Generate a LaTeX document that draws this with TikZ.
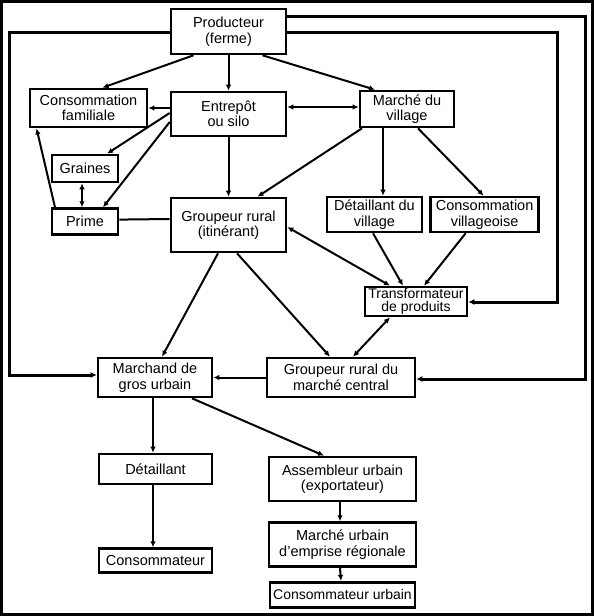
\documentclass[tikz,border=0pt]{standalone}
\usepackage{fontspec}
\setmainfont{Liberation Sans}
\usetikzlibrary{arrows.meta, positioning}
\tikzset{
  box/.style={draw, line width=2.6pt, inner sep=1pt, align=center,
              font=\fontsize{14.5}{15.5}\selectfont},
  arrow/.style={-{Latex[length=6pt,width=5.5pt]}, line width=2pt},
  twoway/.style={{Latex[length=6pt,width=5.5pt]}-{Latex[length=6pt,width=5.5pt]},
                 line width=2pt},
  link/.style={line width=2pt},
  feedback/.style={-{Latex[length=6pt,width=6pt]}, line width=3pt}
}
\begin{document}
\begin{tikzpicture}[x=1pt, y=-1pt]
  \useasboundingbox (0,0) rectangle (594,616);
  \draw[line width=3pt] (1.5,1.5) rectangle (592.5,614.5);

  \node[box, minimum width=115pt, minimum height=45pt] (prod) at (228.5,31.5)
    {Producteur\\(ferme)};
  \node[box, minimum width=117pt, minimum height=38pt] (consfam) at (88.5,108)
    {Consommation\\familiale};
  \node[box, minimum width=115pt, minimum height=44pt] (silo) at (228.5,114)
    {Entrepôt\\ou silo};
  \node[box, minimum width=94pt, minimum height=36pt] (vmarket) at (407,109)
    {Marché du\\village};
  \node[box, minimum width=66pt, minimum height=27pt] (seeds) at (85,168.5)
    {Graines};
  \node[box, minimum width=66pt, minimum height=26pt, below=24pt of seeds] (prime)
    {Prime};
  \node[box, minimum width=115pt, minimum height=54pt] (itin) at (228.5,225)
    {Groupeur rural\\(itinérant)};
  \node[box, minimum width=95pt, minimum height=35pt] (vretail) at (374.5,214.5)
    {Détaillant du\\village};
  \node[box, minimum width=108pt, minimum height=35pt, right=6pt of vretail] (vcons)
    {Consommation\\villageoise};
  \node[box, minimum width=102pt, minimum height=29pt, inner sep=0pt,
        font=\fontsize{14}{12.5}\selectfont] (proc) at (416,301.5)
    {Transformateur\\de produits};
  \node[box, minimum width=114pt, minimum height=39pt] (wholesale) at (155,377.5)
    {Marchand de\\gros urbain};
  \node[box, minimum width=148pt, minimum height=39pt] (central) at (341,377.5)
    {Groupeur rural du\\marché central};
  \node[box, minimum width=113pt, minimum height=30pt] (retail) at (155.5,469)
    {Détaillant};
  \node[box, minimum width=113pt, minimum height=24pt, below=62pt of retail] (consumer)
    {Consommateur};
  \node[box, minimum width=147pt, minimum height=44pt] (export) at (342.5,479)
    {Assembleur urbain\\(exportateur)};
  \node[box, minimum width=147pt, minimum height=44pt, below=19pt of export] (urban)
    {Marché urbain\\d'emprise régionale};
  \node[box, minimum width=145pt, minimum height=25pt, below=13pt of urban,
        font=\fontsize{14}{15}\selectfont] (ucons)
    {Consommateur urbain};

  \draw[feedback] ([yshift=-0.5pt]prod.west) -- ++(-160.5,0) |- ([yshift=2.5pt]wholesale.west);
  \draw[feedback] ([yshift=15pt]prod.east) -- ++(298,0) |- ([yshift=-1.5pt]central.east);
  \draw[feedback] ([yshift=-1pt]prod.east) -- ++(270,0) |- ([yshift=-0.5pt]proc.east);

  \draw[arrow] ([xshift=-35pt]prod.south) -- ([xshift=14pt]consfam.north);
  \draw[arrow] (prod.south) -- (silo.north);
  \draw[arrow] ([xshift=34pt]prod.south) -- ([xshift=-32pt]vmarket.north);
  \draw[twoway] ([yshift=7pt]silo.east) -- ([yshift=2pt]vmarket.west);
  \draw[arrow] ([yshift=6pt]silo.west) -- (consfam.east);
  \draw[arrow] ([yshift=1pt]silo.west) -- ([xshift=22pt]seeds.north);
  \draw[arrow] ([yshift=-8pt]silo.west) -- ([xshift=18pt]prime.north);
  \draw[arrow] ([xshift=-30pt]prime.north) -- ([xshift=-52pt]consfam.south);
  \draw[twoway] ([xshift=-3pt]seeds.south) -- ([xshift=-3pt]prime.north);
  \draw[link] ([yshift=2pt]prime.east) -- ([yshift=6pt]itin.west);
  \draw[arrow] (silo.south) -- (itin.north);
  \draw[arrow] ([xshift=-45pt]vmarket.south) -- ([xshift=29pt]itin.north);
  \draw[arrow] ([xshift=-24pt]vmarket.south) -- ([xshift=8.5pt]vretail.north);
  \draw[arrow] ([xshift=11pt]vmarket.south) -- ([xshift=-1pt]vcons.north);
  \draw[twoway] ([yshift=-2pt]itin.east) -- ([xshift=-26pt]proc.north);
  \draw[arrow] ([xshift=-1.5pt]vretail.south) -- ([xshift=-13pt]proc.north);
  \draw[arrow] ([xshift=-19pt]vcons.south) -- ([xshift=8pt]proc.north);
  \draw[arrow] ([xshift=-10.5pt]itin.south) -- ([xshift=7pt]wholesale.north);
  \draw[arrow] ([xshift=8.5pt]itin.south) -- ([xshift=-11pt]central.north);
  \draw[twoway] ([xshift=-26pt]proc.south) -- ([xshift=12pt]central.north);
  \draw[arrow] (central.west) -- (wholesale.east);
  \draw[arrow] ([xshift=-2pt]wholesale.south) -- ([xshift=-2.5pt]retail.north);
  \draw[arrow] ([xshift=-2.5pt]retail.south) -- ([xshift=-2.5pt]consumer.north);
  \draw[arrow] ([xshift=37pt]wholesale.south) -- ([xshift=-18.5pt]export.north);
  \draw[arrow] ([xshift=-2.5pt]export.south) -- ([xshift=-2.5pt]urban.north);
  \draw[arrow] ([xshift=-2.5pt]urban.south) -- ([xshift=-1.5pt]ucons.north);
\end{tikzpicture}
\end{document}
